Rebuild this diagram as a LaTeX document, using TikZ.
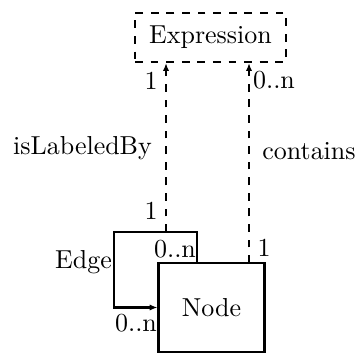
\documentclass[tikz,border=0pt]{standalone}
\usetikzlibrary{arrows.meta}
\begin{document}
\begin{tikzpicture}[
    x=0.385pt, y=-0.385pt,
    classbox/.style={draw, thick, rectangle, inner sep=0pt},
    abstractbox/.style={classbox, dashed},
    mult/.style={inner sep=0pt},
    >={Latex[length=3pt,width=2.4pt]}
]
\useasboundingbox (0,0) rectangle (357,354);

\node[abstractbox, minimum width=58.1pt, minimum height=18.9pt] (expr) at (210.5,37.5) {Expression};
\node[classbox, minimum width=40.8pt, minimum height=34.2pt] (node) at (211.5,307.5) {Node};

\coordinate (loopstart) at (197,263);
\coordinate (loopcorner) at (114,232);
\coordinate (labelfoot) at (166,232);
\coordinate (containsfoot) at (249,263);

\draw[->, thick] (loopstart) |- (loopcorner) |- (node.west);
\draw[->, thick, dashed] (labelfoot) -- (labelfoot |- expr.south);
\draw[->, thick, dashed] (containsfoot) -- (containsfoot |- expr.south);

\node[mult] (m1) at (151,81) {1};
\node[mult] (m2) at (274,80) {0..n};
\node[mult] (m3) at (151,211) {1};
\node[mult] (m4) at (175,249) {0..n};
\node[mult] (m5) at (264,248) {1};
\node[mult] (m6) at (136,323) {0..n};

\node[mult] (labeledby) at (82.5,148) {isLabeledBy};
\node[mult] (contains) at (309,151) {contains};
\node[mult] (edge) at (83.5,262) {Edge};
\end{tikzpicture}
\end{document}
